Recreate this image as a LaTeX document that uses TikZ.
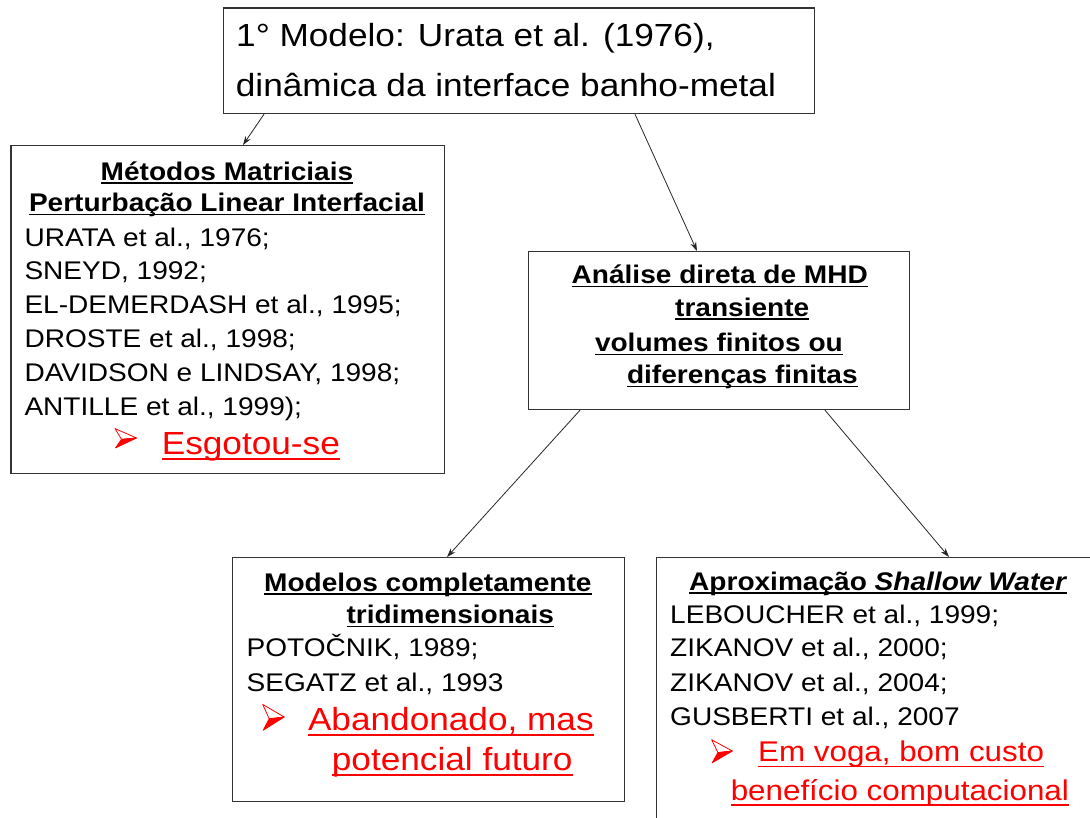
\documentclass[tikz,border=0pt]{standalone}
\usepackage{fontspec}
\usepackage{xcolor}
\usetikzlibrary{arrows.meta,positioning,calc}
\setmainfont{Liberation Sans}[FakeStretch=1.1]
\definecolor{noteRed}{RGB}{255,0,0}
\newsavebox\ulbox
\newcommand\hd[1]{{\bfseries\sbox\ulbox{#1}\rlap{\rule[-3.6pt]{\wd\ulbox}{1.2pt}}\usebox\ulbox}}
\newcommand\nt[1]{{\color{noteRed}\sbox\ulbox{#1}\rlap{\rule[-5.6pt]{\wd\ulbox}{1.3pt}}\usebox\ulbox}}
% red 3D arrowhead bullet
\tikzset{pics/tipmark/.style={code={
    \filldraw[noteRed, fill=white, line width=0.8pt, line join=round] (0,-10.5) -- (21.5,0) -- (6.5,1.5) -- cycle;
    \filldraw[noteRed, line width=0.8pt, line join=round] (6.5,1.5) -- (21.5,0) -- (0.5,11) -- cycle;
}}}

\begin{document}
\begin{tikzpicture}[x=1pt,y=-1pt,
    box/.style={draw=black!80, line width=1.2pt, anchor=north west, inner sep=0pt},
    ln/.style={anchor=base west, inner sep=0pt, font=\fontsize{25.5}{30}\selectfont},
    hl/.style={anchor=base west, inner sep=0pt, font=\fontsize{25.5}{30}\selectfont\bfseries},
    link/.style={draw=black!85, line width=0.8pt, -{Stealth[length=9pt,width=6pt]}}]
    \useasboundingbox (0,0) rectangle (1090,817);
    \clip (0,0) rectangle (1090,817);

    % boxes
    \node[box, minimum width=591.5pt, minimum height=105.7pt] (top) at (222.5,7.3) {};
    \node[box, minimum width=433.6pt, minimum height=328pt] (matr) at (10.4,145) {};
    \node[box, minimum width=381pt, minimum height=158pt] (mhd) at (528,251) {};
    \node[box, minimum width=392pt, minimum height=244pt] (tri) at (232,557) {};
    \node[box, minimum width=460pt, minimum height=300pt] (shallow) at (656,557) {};

    % first model
    \node[ln, font=\fontsize{32}{40}\selectfont] (top1) at (236,46.7) {1° Modelo: Urata et al. (1976),};
    \node[ln, font=\fontsize{32}{40}\selectfont] (top2) at (235.7,96.7) {dinâmica da interface banho-metal};

    % matrix methods
    \node[hl, anchor=base] (matr1) at (227,180) {\hd{Métodos Matriciais}};
    \node[hl, anchor=base] (matr2) at (227,211.7) {\hd{Perturbação Linear Interfacial}};
    \node[ln] (matr3) at (24.3,246) {URATA et al., 1976;};
    \node[ln] (matr4) at (24.3,279.8) {SNEYD, 1992;};
    \node[ln] (matr5) at (24.3,313.6) {EL-DEMERDASH et al., 1995;};
    \node[ln] (matr6) at (24.3,347.4) {DROSTE et al., 1998;};
    \node[ln] (matr7) at (24.3,381.2) {DAVIDSON e LINDSAY, 1998;};
    \node[ln] (matr8) at (24.3,415) {ANTILLE et al., 1999);};
    \pic[yscale=0.9] (matrTip) at (115,438) {tipmark};
    \node[ln, font=\fontsize{32}{40}\selectfont] (matr9) at (161.6,454) {\nt{Esgotou-se}};

    % direct MHD
    \node[hl] (mhd1) at (571.5,283.3) {\hd{Análise direta de MHD}};
    \node[hl] (mhd2) at (675,316) {\hd{transiente}};
    \node[hl] (mhd3) at (594.8,351.7) {\hd{volumes finitos ou}};
    \node[hl] (mhd4) at (626.8,383.3) {\hd{diferenças finitas}};

    % 3D models
    \node[hl] (tri1) at (264,591) {\hd{Modelos completamente}};
    \node[hl] (tri2) at (346.4,623.3) {\hd{tridimensionais}};
    \node[ln] (tri3) at (246.5,656.7) {POTOČNIK, 1989;};
    \node[ln] (tri4) at (246.5,691.7) {SEGATZ et al., 1993};
    \pic[yscale=1.2] (triTip) at (262.7,717) {tipmark};
    \node[ln, font=\fontsize{32}{40}\selectfont] (tri5) at (307.8,730) {\nt{Abandonado, mas}};
    \node[ln, font=\fontsize{32}{40}\selectfont] (tri6) at (331.7,770) {\nt{potencial futuro}};

    % shallow water
    \node[hl] (sw1) at (689,590) {\hd{Aproximação \textit{Shallow Water}}};
    \node[ln] (sw2) at (670,623.3) {LEBOUCHER et al., 1999;};
    \node[ln] (sw3) at (670,656.7) {ZIKANOV et al., 2000;};
    \node[ln] (sw4) at (670,691.7) {ZIKANOV et al., 2004;};
    \node[ln] (sw5) at (670,725) {GUSBERTI et al., 2007};
    \pic[xscale=0.96, yscale=1.07] (swTip) at (711.7,751) {tipmark};
    \node[ln, font=\fontsize{28.5}{34}\selectfont] (sw6) at (758,761.7) {\nt{Em voga, bom custo}};
    \node[ln, font=\fontsize{28.5}{34}\selectfont] (sw7) at (730.6,800) {\nt{benefício computacional}};

    % arrows
    \draw[link] ([xshift=41.5pt]top.south west) -- ([xshift=232.6pt]matr.north west);
    \draw[link] ([xshift=412.5pt]top.south west) -- ([xshift=169pt]mhd.north west);
    \draw[link] ([xshift=52pt]mhd.south west) -- ([xshift=215pt]tri.north west);
    \draw[link] ([xshift=297pt]mhd.south west) -- ([xshift=293pt]shallow.north west);
\end{tikzpicture}
\end{document}
